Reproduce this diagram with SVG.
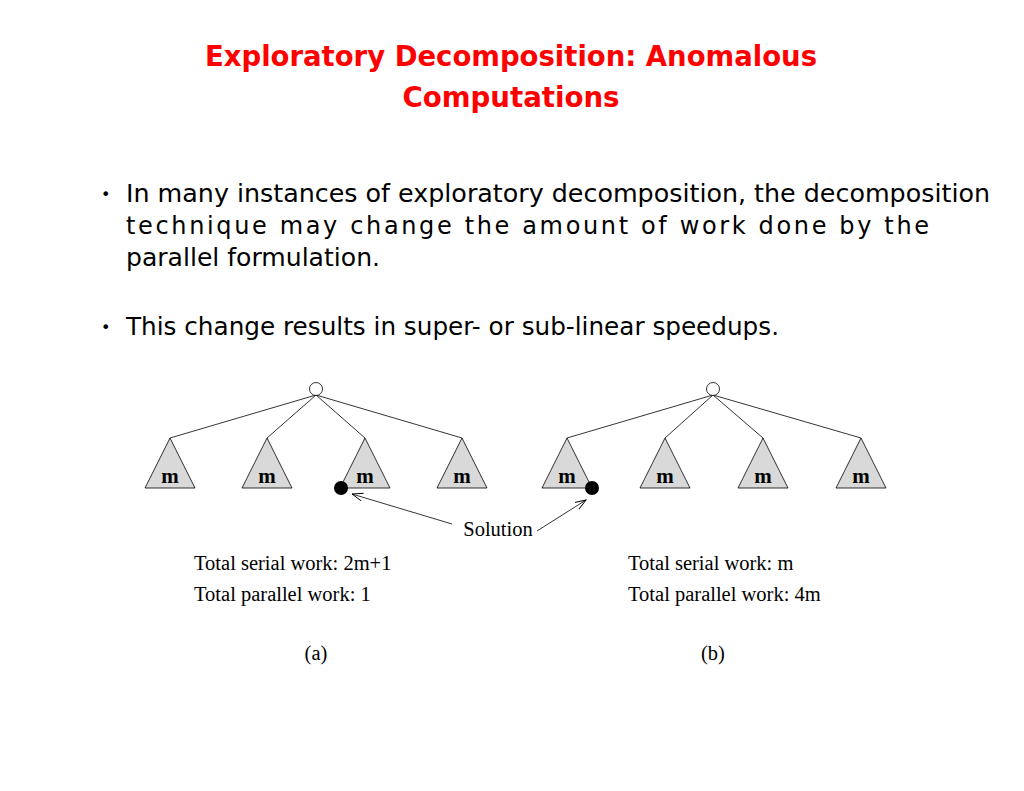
<svg xmlns="http://www.w3.org/2000/svg" width="1024" height="791" viewBox="0 0 1024 791">
<defs>
<marker id="arr" markerWidth="12" markerHeight="10" refX="11" refY="5" orient="auto" markerUnits="userSpaceOnUse">
<path d="M0,1 L11,5 L0,9" fill="none" stroke="#000" stroke-width="0.9"/>
</marker>
</defs>
<style>
.title{font-family:"DejaVu Sans Condensed","DejaVu Sans",sans-serif;font-weight:bold;font-size:29px;fill:#ff0000;text-anchor:middle}
.body{font-family:"DejaVu Sans",Verdana,sans-serif;font-size:24px;fill:#000}
.bul{font-family:"DejaVu Sans",Verdana,sans-serif;font-size:16px;fill:#000}
.tri{fill:#d9d9d9;stroke:#000;stroke-width:0.8}
.m{font-family:"Liberation Serif","Times New Roman",serif;font-weight:bold;font-size:21px;text-anchor:middle;fill:#000}
.edge{stroke:#000;stroke-width:0.8;fill:none}
.lbl{font-family:"Liberation Serif","Times New Roman",serif;font-size:20.5px;fill:#000}
.root{fill:#fff;stroke:#000;stroke-width:0.8}
.sol{fill:#000}
</style>
<rect width="1024" height="791" fill="#fff"/>
<g id="title">
<text class="title" x="511" y="66" textLength="612" lengthAdjust="spacingAndGlyphs">Exploratory Decomposition: Anomalous</text>
<text class="title" x="511" y="107" textLength="217" lengthAdjust="spacingAndGlyphs">Computations</text>
</g>
<g id="bullets">
<text class="bul" x="101" y="200">•</text>
<text class="body" x="126" y="202" textLength="864" lengthAdjust="spacingAndGlyphs">In many instances of exploratory decomposition, the decomposition</text>
<text class="body" x="126" y="234" textLength="803" lengthAdjust="spacing">technique may change the amount of work done by the</text>
<text class="body" x="126" y="266" textLength="254" lengthAdjust="spacingAndGlyphs">parallel formulation.</text>
<text class="bul" x="101" y="333">•</text>
<text class="body" x="126" y="335" textLength="653" lengthAdjust="spacingAndGlyphs">This change results in super- or sub-linear speedups.</text>
</g>
<g id="connectors">
<line class="edge" x1="316" y1="395" x2="170" y2="438"/>
<line class="edge" x1="316" y1="395" x2="267" y2="438"/>
<line class="edge" x1="316" y1="395" x2="365" y2="438"/>
<line class="edge" x1="316" y1="395" x2="462" y2="438"/>
<line class="edge" x1="713" y1="395" x2="567" y2="438"/>
<line class="edge" x1="713" y1="395" x2="665" y2="438"/>
<line class="edge" x1="713" y1="395" x2="763" y2="438"/>
<line class="edge" x1="713" y1="395" x2="861" y2="438"/>
<line class="edge" x1="452" y1="524" x2="352" y2="494" marker-end="url(#arr)"/>
<line class="edge" x1="537" y1="531" x2="586" y2="500" marker-end="url(#arr)"/>
</g>
<g id="tree-a">
<circle class="root" cx="316" cy="389" r="6.5"/>
<g id="a1"><polygon class="tri" points="170,438 145,488 195,488"/><text class="m" x="170" y="483">m</text></g>
<g id="a2"><polygon class="tri" points="267,438 242,488 292,488"/><text class="m" x="267" y="483">m</text></g>
<g id="a3"><polygon class="tri" points="365,438 340,488 390,488"/><text class="m" x="365" y="483">m</text></g>
<g id="a4"><polygon class="tri" points="462,438 437,488 487,488"/><text class="m" x="462" y="483">m</text></g>
<circle id="sol-a" class="sol" cx="341" cy="488" r="7"/>
</g>
<g id="tree-b">
<circle class="root" cx="713" cy="389" r="6.5"/>
<g id="b1"><polygon class="tri" points="567,438 542,488 592,488"/><text class="m" x="567" y="483">m</text></g>
<g id="b2"><polygon class="tri" points="665,438 640,488 690,488"/><text class="m" x="665" y="483">m</text></g>
<g id="b3"><polygon class="tri" points="763,438 738,488 788,488"/><text class="m" x="763" y="483">m</text></g>
<g id="b4"><polygon class="tri" points="861,438 836,488 886,488"/><text class="m" x="861" y="483">m</text></g>
<circle id="sol-b" class="sol" cx="592" cy="488" r="7"/>
</g>
<g id="labels">
<text class="lbl" x="498" y="536" text-anchor="middle">Solution</text>
<text class="lbl" x="194" y="570">Total serial work: 2m+1</text>
<text class="lbl" x="194" y="601">Total parallel work: 1</text>
<text class="lbl" x="628" y="570">Total serial work: m</text>
<text class="lbl" x="628" y="601">Total parallel work: 4m</text>
<text class="lbl" x="316" y="660" text-anchor="middle">(a)</text>
<text class="lbl" x="713" y="660" text-anchor="middle">(b)</text>
</g>
</svg>
